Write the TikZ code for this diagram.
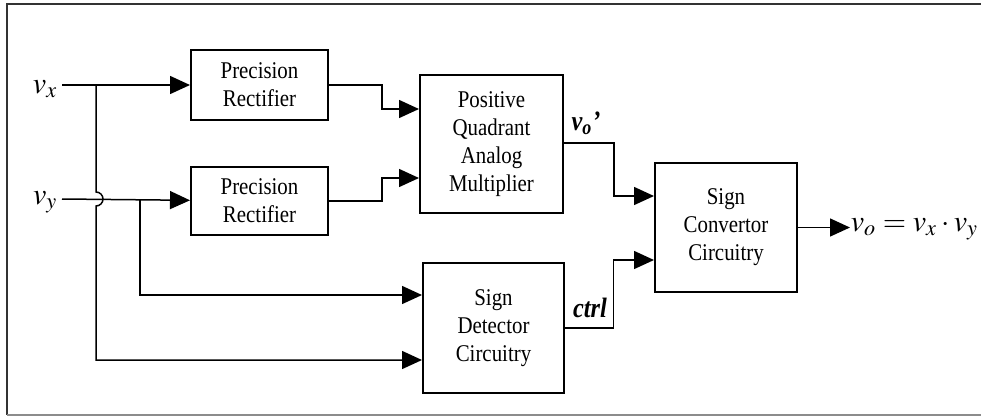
\documentclass[tikz,border=0pt]{standalone}
\usepackage{mathptmx}
\usepackage{fontspec}
\setmainfont[FakeStretch=0.87]{Liberation Serif}
\usetikzlibrary{arrows.meta,positioning}

\begin{document}
\begin{tikzpicture}[x=0.5pt, y=-0.5pt, thick]
    % Styles
    \tikzstyle{block}=[rectangle, draw=black, line width=1pt, inner sep=0pt, align=center, font=\fontsize{12}{14}\selectfont]
    \tikzstyle{wire}=[line width=0.75pt]
    \tikzstyle{arrow}=[wire, -{Triangle[length=10pt, width=9pt]}]
    \tikzstyle{sig}=[inner sep=0pt, font=\fontsize{15}{15}\selectfont]
    \tikzstyle{tag}=[inner sep=0pt, font=\bfseries\itshape\fontsize{14}{14}\selectfont]

    % Frame
    \useasboundingbox (0,0) rectangle (981,418);
    \draw[black!80, line width=1pt] (981,4) -- (7,4) -- (7,415);
    \draw[black!45, line width=1pt] (7,415) -- (981,415);

    % Blocks
    \node (rect1) [block, minimum width=68.5pt, minimum height=35pt] at (259.5,85) {Precision\\Rectifier};
    \node (rect2) [block, minimum width=68.5pt, minimum height=34pt, below=22.5pt of rect1] {Precision\\Rectifier};
    \node (mult) [block, minimum width=71.5pt, minimum height=69pt] at (491.5,144) {Positive\\Quadrant\\Analog\\Multiplier};
    \node (det) [block, minimum width=70.5pt, minimum height=65pt] at (493.5,328) {Sign\\Detector\\Circuitry};
    \node (conv) [block, minimum width=71pt, minimum height=64.5pt] at (726,227.5) {Sign\\Convertor\\Circuitry};

    % Signals
    \coordinate (vxin) at (62,85);
    \coordinate (vyin) at (62,199);
    \coordinate (tapx) at (96,85);
    \coordinate (tapy) at (140,199);
    \coordinate (cross) at (tapx |- vyin);
    \node (vx) [sig, anchor=east] at (58,89) {$v_x$};
    \node (vy) [sig, anchor=east] at (58,202) {$v_y$};
    \node (vop) [tag] at (586,123) {v\textsubscript{o}’};
    \node (ctrl) [tag] at (590,308) {ctrl};
    \node (out) [sig, anchor=west] at (850,229) {$v_o = v_x\cdot v_y$};

    % Connections
    \draw [arrow] (vxin) -- (rect1);
    \draw [arrow] (vyin) -- (rect2);
    \draw [arrow] (rect1.east) -- ++(53,0) |- ([yshift=17.5pt]mult.west);
    \draw [arrow] (rect2.east) -- ++(53,0) |- ([yshift=-17pt]mult.west);
    \draw [arrow] ([yshift=0.5pt]mult.east) -- ++(50,0) |- ([yshift=15.75pt]conv.west);
    \draw [arrow] (det.east) -- ++(48.5,0) |- ([yshift=-16.25pt]conv.west);
    \draw [arrow] (conv.east) -- (conv.east -| out.west);
    \draw [arrow] (tapx) -- ([yshift=3.5pt]cross) arc[start angle=90, end angle=-90, radius=3.5pt] |- ([yshift=-16pt]det.west);
    \draw [arrow] (tapy) |- ([yshift=16.5pt]det.west);
\end{tikzpicture}
\end{document}
